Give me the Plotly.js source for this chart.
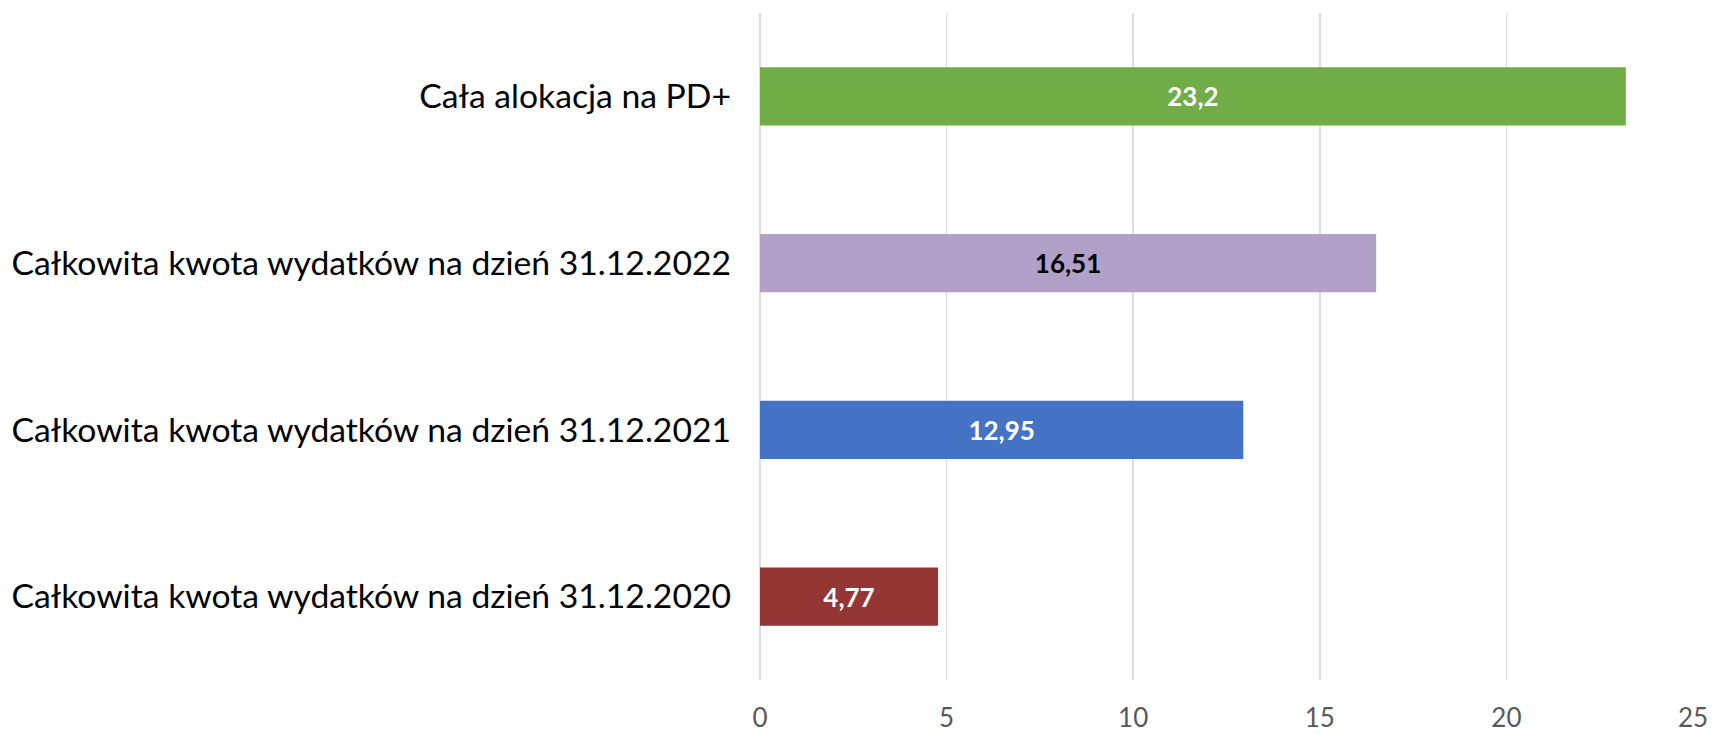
<!DOCTYPE html>
<html>
<head>
<meta charset="utf-8">
<script src="https://cdn.plot.ly/plotly-3.0.1.min.js"></script>
<style>html,body{margin:0;padding:0;background:#fff;}#chart{width:1713px;height:734px;}</style>
</head>
<body>
<div id="chart"></div>
<script>
const categories = [
  "Cała alokacja na PD+",
  "Całkowita kwota wydatków na dzień 31.12.2022",
  "Całkowita kwota wydatków na dzień 31.12.2021",
  "Całkowita kwota wydatków na dzień 31.12.2020"
];
const values = [23.2, 16.51, 12.95, 4.77];
const barColors = ["#70AD47", "#B1A0C7", "#4472C4", "#943634"];
const labelColors = ["#FFFFFF", "#000000", "#FFFFFF", "#FFFFFF"];
const tickValues = [0, 5, 10, 15, 20, 25];

const trace = {
  type: "bar",
  orientation: "h",
  y: categories,
  x: values,
  width: 0.35,
  marker: { color: barColors },
  text: values.map(v => String(v).replace(".", ",")),
  textposition: "inside",
  insidetextanchor: "middle",
  textangle: 0,
  textfont: { family: "Lato, sans-serif", size: 26, color: labelColors, weight: "bold" },
  hoverinfo: "none"
};

const layout = {
  width: 1713,
  height: 734,
  margin: { l: 760, r: 20, t: 13, b: 54 },
  paper_bgcolor: "#FFFFFF",
  plot_bgcolor: "#FFFFFF",
  showlegend: false,
  font: { family: "Lato, sans-serif", color: "#000000" },
  xaxis: {
    range: [0, 25],
    tickvals: tickValues,
    ticktext: tickValues.map(String),
    showgrid: true,
    gridcolor: "#DDDDDD",
    gridwidth: 1.5,
    zeroline: true,
    zerolinecolor: "#DDDDDD",
    zerolinewidth: 1.5,
    showline: false,
    ticks: "",
    ticklabelstandoff: 20,
    tickfont: { family: "Lato, sans-serif", size: 26, color: "#595959" },
    fixedrange: true
  },
  yaxis: {
    type: "category",
    autorange: "reversed",
    showgrid: false,
    zeroline: false,
    showline: false,
    ticks: "",
    ticklabelstandoff: 28,
    tickfont: { family: "Lato, sans-serif", size: 33.7, color: "#000000" },
    fixedrange: true
  }
};

Plotly.newPlot("chart", [trace], layout, { displayModeBar: false, staticPlot: true });
</script>
</body>
</html>
